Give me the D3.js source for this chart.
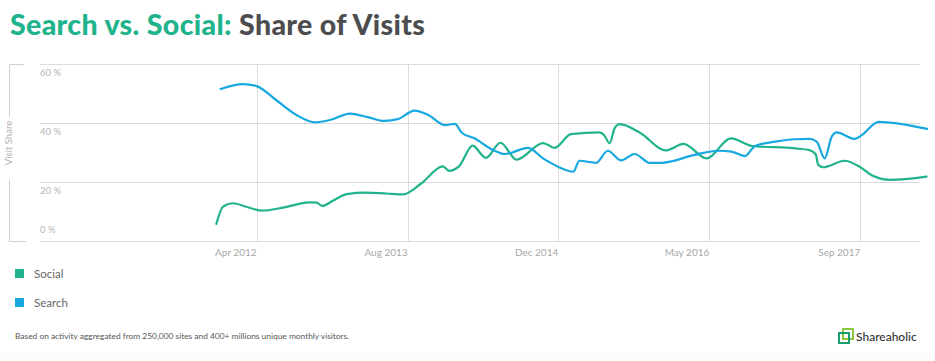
<!DOCTYPE html>
<html>
<head>
<meta charset="utf-8">
<script src="https://cdn.jsdelivr.net/npm/d3@7/dist/d3.min.js"></script>
<style>
  html, body { margin: 0; padding: 0; background: #ffffff; }
  svg { display: block; }
  text { font-family: Lato, "Open Sans", sans-serif; }
</style>
</head>
<body>
<svg id="chart" width="935" height="361"></svg>
<script>
// ---------- data ----------
const seriesNames = ["Social", "Search"];
const yTickValues = [0, 20, 40, 60];
const yTickLabels = ["0 %", "20 %", "40 %", "60 %"];
const xTickDates = ["2012-04-29", "2013-08-30", "2014-12-30", "2016-05-01", "2017-09-01"];
const xTickLabels = ["Apr 2012", "Aug 2013", "Dec 2014", "May 2016", "Sep 2017"];

const searchDates = ["2012-01-04","2012-03-15","2012-04-29","2012-07-01","2012-09-05","2012-11-04","2012-12-22",
  "2013-02-25","2013-04-22","2013-06-17","2013-07-29","2013-09-22","2013-11-05","2013-12-28","2014-01-30",
  "2014-02-21","2014-04-03","2014-05-27","2014-07-12","2014-09-23","2014-11-11","2014-12-29","2015-02-17",
  "2015-03-08","2015-05-01","2015-06-08","2015-07-21","2015-09-03","2015-10-21","2015-11-29","2016-03-15",
  "2016-05-29","2016-07-12","2016-08-24","2016-09-26","2016-11-30","2017-02-03","2017-03-21","2017-04-13",
  "2017-05-09","2017-06-01","2017-06-16","2017-08-15","2017-09-06","2017-10-30","2018-04-05"];
const searchValues = [51.5,53.2,52.5,47.8,42.7,40.2,41.0,
  43.2,42.0,40.7,41.3,44.2,42.7,39.3,39.7,
  36.7,34.8,31.2,29.5,31.6,28.0,25.2,23.5,
  27.2,26.5,30.6,27.3,29.5,26.5,26.5,29.2,
  30.6,30.3,28.8,32.2,33.7,34.5,34.6,33.7,
  28.0,35.4,36.8,34.6,35.9,40.4,38.0];

const socialDates = ["2011-12-21","2012-01-11","2012-02-13","2012-03-26","2012-05-19","2012-07-22","2012-10-17",
  "2012-11-09","2012-11-27","2013-01-02","2013-02-14","2013-04-18","2013-06-22","2013-08-15","2013-10-13",
  "2013-12-22","2014-01-11","2014-02-12","2014-03-28","2014-05-10","2014-06-26","2014-08-17","2014-11-11",
  "2014-12-18","2015-02-09","2015-05-12","2015-05-28","2015-06-14","2015-06-30","2015-07-16","2015-09-20",
  "2015-12-12","2016-02-08","2016-04-22","2016-07-10","2016-09-17","2017-02-03","2017-03-21","2017-04-10",
  "2017-04-18","2017-05-04","2017-07-13","2017-09-01","2017-10-13","2017-12-06","2018-04-03"];
const socialValues = [5.8,11.6,12.8,11.6,10.3,11.3,13.1,
  13.0,11.9,13.7,15.9,16.4,16.1,15.8,19.5,
  25.3,23.8,25.3,32.3,28.2,33.3,27.6,33.2,
  31.6,36.2,36.8,35.8,33.1,38.2,39.6,36.7,
  30.7,32.9,28.0,34.8,32.2,31.4,30.8,29.4,
  25.8,25.0,27.2,25.0,22.0,20.7,21.8];

const colors = { Social: "#21b38c", Search: "#18a8e0" };

// ---------- layout ----------
const svg = d3.select("#chart");
const plot = { left: 40, right: 920, top: 64, bottom: 241 };
const parse = d3.timeParse("%Y-%m-%d");

const x = d3.scaleTime()
  .domain([parse("2010-05-30"), parse("2018-03-13")])
  .range([plot.left, plot.right]);
const y = d3.scaleLinear().domain([0, 60]).range([plot.bottom, plot.top]);

// faint footer band
svg.append("rect").attr("x", 0).attr("y", 352).attr("width", 935).attr("height", 9).attr("fill", "#fbfbfb");

// title
const title = svg.append("text").attr("x", 10).attr("y", 35)
  .attr("font-size", 28.5).attr("font-weight", 900)
  .style("letter-spacing", "0.35px");
title.append("tspan").attr("fill", "#21b38c").text("Search vs. Social:");
title.append("tspan").attr("fill", "#4d4d4f").text(" Share of Visits");

// horizontal gridlines
svg.append("g").selectAll("line").data(yTickValues).join("line")
  .attr("x1", plot.left).attr("x2", plot.right)
  .attr("y1", d => Math.round(y(d)) + 0.5).attr("y2", d => Math.round(y(d)) + 0.5)
  .attr("stroke", "#dcdcdc").attr("stroke-width", 1);

// vertical gridlines
const xTicks = xTickDates.map(parse);
svg.append("g").selectAll("line").data(xTicks).join("line")
  .attr("x1", d => Math.round(x(d)) + 0.5).attr("x2", d => Math.round(x(d)) + 0.5)
  .attr("y1", plot.top).attr("y2", plot.bottom)
  .attr("stroke", "#dcdcdc").attr("stroke-width", 1);

// y tick labels
svg.append("g").selectAll("text").data(yTickValues).join("text")
  .attr("x", plot.left)
  .attr("y", d => d === 0 ? y(d) - 8 : y(d) + 12)
  .attr("font-size", 9.5).attr("fill", "#b5b5b5")
  .text((d, i) => yTickLabels[i]);

// x tick labels (right-aligned to gridline)
svg.append("g").selectAll("text").data(xTicks).join("text")
  .attr("x", d => x(d)).attr("y", 256)
  .attr("text-anchor", "end")
  .attr("font-size", 10).attr("fill", "#a8a8a8")
  .text((d, i) => xTickLabels[i]);

// y-axis title bracket
const br = svg.append("g").attr("stroke", "#d0d0d0").attr("fill", "none");
br.append("path").attr("d", `M24,${plot.top + 0.5}H9.5V117`);
br.append("path").attr("d", `M9.5,180V${plot.bottom + 0.5}H26`);
svg.append("text")
  .attr("transform", `translate(12,143) rotate(-90)`)
  .attr("text-anchor", "middle").attr("font-size", 9.5).attr("fill", "#b0b0b0")
  .text("Visit Share");

// lines
const line = d3.line()
  .x(d => x(d.date)).y(d => y(d.value))
  .curve(d3.curveMonotoneX);

const seriesData = {
  Social: socialDates.map((d, i) => ({ date: parse(d), value: socialValues[i] })),
  Search: searchDates.map((d, i) => ({ date: parse(d), value: searchValues[i] }))
};

svg.append("g").selectAll("path").data(["Social", "Search"]).join("path")
  .attr("d", k => line(seriesData[k]))
  .attr("fill", "none")
  .attr("stroke", k => colors[k])
  .attr("stroke-width", 2.2)
  .attr("stroke-linejoin", "round").attr("stroke-linecap", "round");

// legend
const lg = svg.append("g").selectAll("g").data(seriesNames).join("g")
  .attr("transform", (d, i) => `translate(15,${269 + i * 29})`);
lg.append("rect").attr("width", 9).attr("height", 9).attr("fill", d => colors[d]);
lg.append("text").attr("x", 19).attr("y", 9).attr("font-size", 11.5).attr("fill", "#666").text(d => d);

// footer
svg.append("text").attr("x", 15).attr("y", 338.5)
  .attr("font-size", 8.4).attr("fill", "#555")
  .text("Based on activity aggregated from 250,000 sites and 400+ millions unique monthly visitors.");

// logo
const logo = svg.append("g").attr("transform", "translate(839,329)");
logo.append("rect").attr("x", 4).attr("y", 0).attr("width", 10).attr("height", 10)
  .attr("fill", "none").attr("stroke", "#8cc63f").attr("stroke-width", 2);
logo.append("rect").attr("x", 0).attr("y", 4).attr("width", 10).attr("height", 10)
  .attr("fill", "none").attr("stroke", "#1a9e6e").attr("stroke-width", 2);
svg.append("text").attr("x", 856).attr("y", 340.5)
  .attr("font-size", 12).attr("fill", "#333").attr("font-weight", 500)
  .text("Shareaholic");
</script>
</body>
</html>
